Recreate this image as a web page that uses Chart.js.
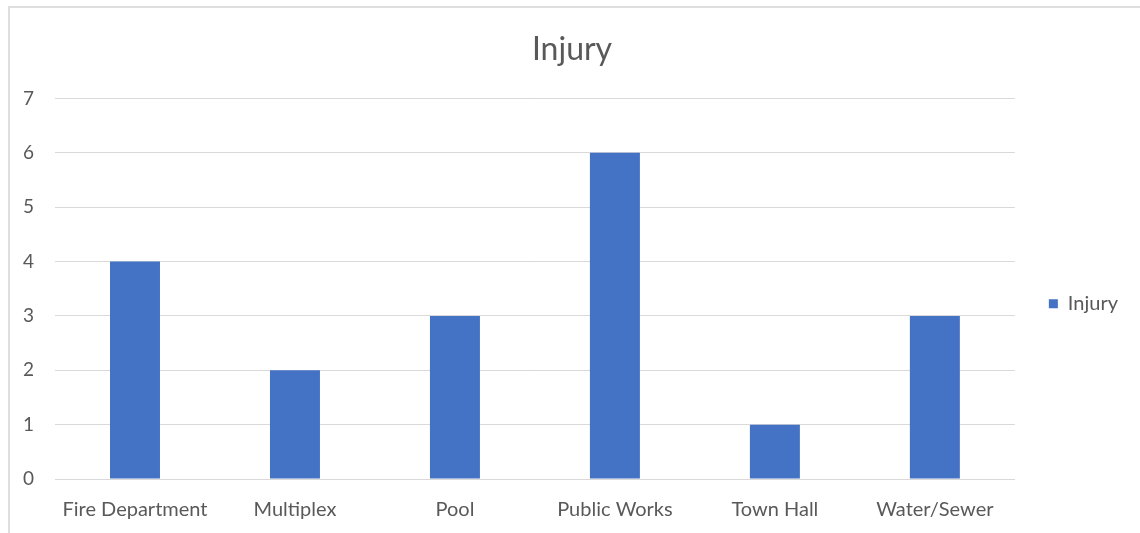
<!DOCTYPE html>
<html>
<head>
<meta charset="utf-8">
<script src="https://cdn.jsdelivr.net/npm/chart.js@4/dist/chart.umd.min.js"></script>
<style>
    html, body {
        margin: 0;
        padding: 0;
        background: #ffffff;
    }
    #wrap {
        position: relative;
        width: 1140px;
        height: 533px;
        overflow: hidden;
    }
    #frame {
        position: absolute;
        left: 8px;
        top: 6px;
        width: 1200px;
        height: 600px;
        border-top: 2px solid #dedede;
        border-left: 2px solid #dedede;
    }
    #myChart {
        position: absolute;
        left: 0;
        top: 0;
    }
</style>
</head>
<body>
<div id="wrap">
    <div id="frame"></div>
    <canvas id="myChart" width="1140" height="533"></canvas>
</div>
<script>
const categories = ["Fire Department", "Multiplex", "Pool", "Public Works", "Town Hall", "Water/Sewer"];
const injuryValues = [4, 2, 3, 6, 1, 3];
const yTicks = [0, 1, 2, 3, 4, 5, 6, 7];

const textColor = "#595959";
const gridColor = "#d9d9d9";
const barColor = "#4472c4";
const fontFamily = "Lato, 'Open Sans', sans-serif";

// Nudge the title and legend boxes after layout so they sit where they should
const boxNudge = {
    id: "boxNudge",
    afterLayout(chart) {
        const t = chart.titleBlock;
        if (t) {
            t.left += 16;
        }
        const l = chart.legend;
        if (l) {
            l.top += 15;
            l.bottom += 15;
        }
    },
};

const ctx = document.getElementById("myChart").getContext("2d");

new Chart(ctx, {
    type: "bar",
    data: {
        labels: categories,
        datasets: [
            {
                label: "Injury",
                data: injuryValues,
                backgroundColor: barColor,
                borderWidth: 0,
                barPercentage: 0.5,
                categoryPercentage: 0.625,
            },
        ],
    },
    options: {
        responsive: false,
        animation: false,
        devicePixelRatio: 1,
        layout: {
            padding: { top: 30, bottom: 0, left: 0, right: 12 },
        },
        scales: {
            x: {
                afterFit: (axis) => {
                    axis.height = 54;
                },
                grid: { display: false },
                border: { color: gridColor, width: 1 },
                ticks: {
                    color: textColor,
                    padding: 11,
                    font: { size: 20, family: fontFamily },
                    maxRotation: 0,
                },
            },
            y: {
                min: 0,
                max: 7,
                afterBuildTicks: (axis) => {
                    axis.ticks = yTicks.map(v => ({ value: v }));
                },
                afterFit: (axis) => {
                    axis.width = 55;
                },
                grid: {
                    color: gridColor,
                    lineWidth: 1,
                    drawTicks: false,
                },
                border: { display: false },
                ticks: {
                    color: textColor,
                    padding: 21,
                    font: { size: 19, family: fontFamily },
                },
            },
        },
        plugins: {
            title: {
                display: true,
                text: "Injury",
                color: textColor,
                font: { size: 32, weight: "normal", family: fontFamily },
                padding: { top: 0, bottom: 30 },
            },
            legend: {
                position: "right",
                fullSize: false,
                labels: {
                    boxWidth: 9,
                    boxHeight: 9,
                    padding: 34,
                    color: textColor,
                    font: { size: 20, family: fontFamily },
                },
            },
            tooltip: { enabled: false },
        },
    },
    plugins: [boxNudge],
});
</script>
</body>
</html>
